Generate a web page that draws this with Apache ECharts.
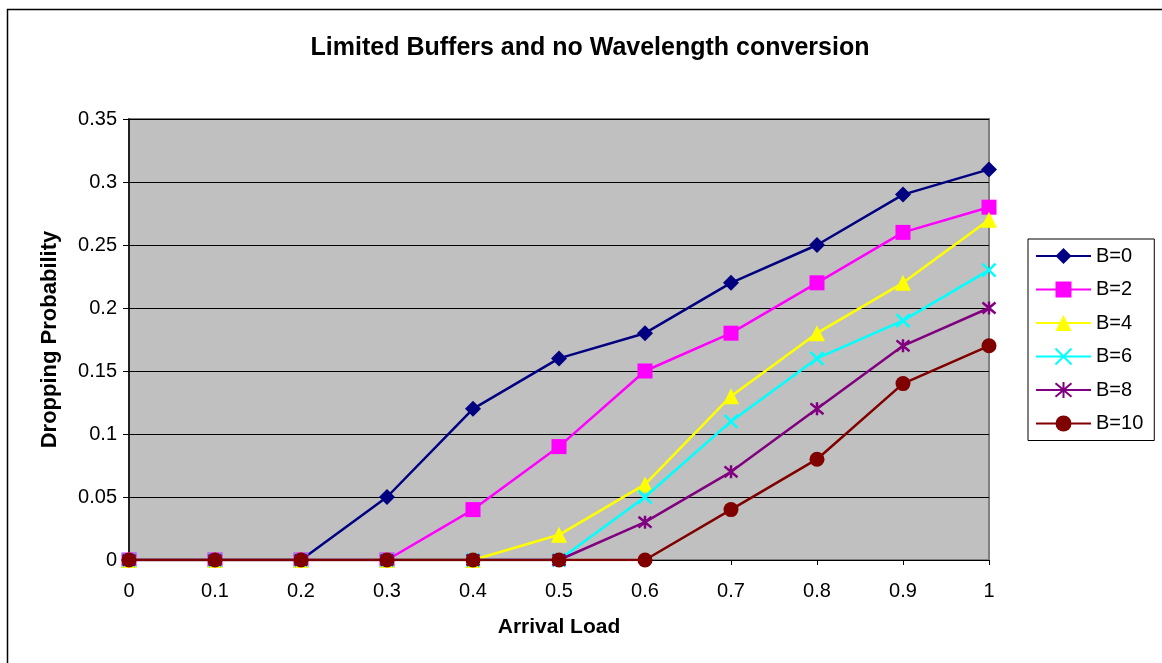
<!DOCTYPE html>
<html><head><meta charset="utf-8">
<script src="https://cdn.jsdelivr.net/npm/echarts@6/dist/echarts.min.js"></script>
<style>html,body{margin:0;padding:0;background:#fff}#c{width:1162px;height:663px}</style>
</head><body><div id="c"></div>
<script>
const categories = ['0','0.1','0.2','0.3','0.4','0.5','0.6','0.7','0.8','0.9','1'];
const B0  = [0,0,0,0.05,0.12,0.16,0.18,0.22,0.25,0.29,0.31];
const B2  = [0,0,0,0,0.04,0.09,0.15,0.18,0.22,0.26,0.28];
const B4  = [0,0,0,0,0,0.02,0.06,0.13,0.18,0.22,0.27];
const B6  = [0,0,0,0,0,0,0.05,0.11,0.16,0.19,0.23];
const B8  = [0,0,0,0,0,0,0.03,0.07,0.12,0.17,0.20];
const B10 = [0,0,0,0,0,0,0,0.04,0.08,0.14,0.17];
const names = ['B=0','B=2','B=4','B=6','B=8','B=10'];
const colors = ['#000080','#FF00FF','#FFFF00','#00FFFF','#800080','#800000'];
const symbols = ['diamond','rect','triangle','path://M0,0L10,10M10,0L0,10','path://M0,0L10,10M10,0L0,10M5,-1L5,11','circle'];
const sizes = [16,15,16,13,13,15];
const datasets = [B0,B2,B4,B6,B8,B10];
const font = 'Liberation Sans, Arial, sans-serif';

const series = datasets.map((d,i)=>{
  const stroke = symbols[i].startsWith('path://');
  return {
    name: names[i], type:'line', data:d,
    symbol: symbols[i], symbolSize: sizes[i],
    lineStyle:{color:colors[i], width:2.5},
    itemStyle: stroke ? {color:colors[i], borderColor:colors[i], borderWidth:2.5} : {color:colors[i], borderWidth:0},
    emphasis:{disabled:true}, animation:false, z: 2+i
  };
});

const chart = echarts.init(document.getElementById('c'));
chart.setOption({
  animation:false,
  backgroundColor:'#fff',
  title:{text:'Limited Buffers and no Wavelength conversion', left:585, top:31, textAlign:'center',
    textStyle:{fontFamily:font, fontSize:25, fontWeight:'bold', color:'#000'}},
  graphic:[{type:'rect', shape:{x:7.5,y:9.5,width:1200,height:700}, style:{fill:'none', stroke:'#000', lineWidth:1.5}, z:100}],
  grid:{left:129, right:173, top:119, bottom:103, show:true, backgroundColor:'#C0C0C0', borderColor:'#808080', borderWidth:2},
  legend:{
    orient:'vertical', left:1028, top:239,
    padding:[7,11,7,7], itemGap:13.5, itemWidth:55, itemHeight:20,
    borderColor:'#000', borderWidth:1, backgroundColor:'#fff',
    textStyle:{fontFamily:font, fontSize:20, color:'#000'},
    data:names
  },
  xAxis:{type:'category', data:categories, boundaryGap:false,
    name:'Arrival Load', nameLocation:'middle', nameGap:57,
    nameTextStyle:{fontFamily:font, fontSize:21, fontWeight:'bold', color:'#000'},
    axisLine:{lineStyle:{color:'#000', width:1}},
    axisTick:{show:true, inside:false, length:5, alignWithLabel:true, lineStyle:{color:'#000'}},
    axisLabel:{fontFamily:font, fontSize:20, color:'#000', margin:21},
    splitLine:{show:false}},
  yAxis:{type:'value', min:0, max:0.35, interval:0.05,
    name:'Dropping Probability', nameLocation:'middle', nameGap:68,
    nameTextStyle:{fontFamily:font, fontSize:22, fontWeight:'bold', color:'#000'},
    axisLine:{show:true, lineStyle:{color:'#000', width:1.5}},
    axisTick:{show:true, inside:false, length:6, lineStyle:{color:'#000'}},
    axisLabel:{fontFamily:font, fontSize:20, color:'#000', margin:12},
    splitLine:{show:true, lineStyle:{color:'#000', width:1}}},
  series: series
});
</script></body></html>
